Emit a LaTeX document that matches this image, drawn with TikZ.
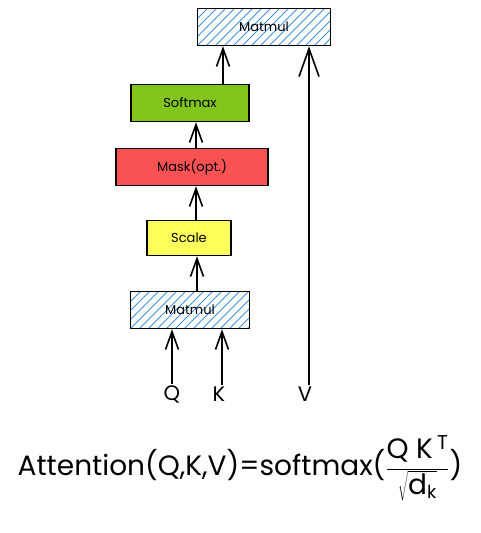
\documentclass[tikz,border=0pt]{standalone}
\usepackage{fontspec}
\setmainfont{Poppins}
\usepackage{tikz}
\usetikzlibrary{arrows.meta, positioning}

\begin{document}
\begin{tikzpicture}[
    x=1pt, y=-1pt,
    >={Straight Barb[length=18pt, width=13pt]},
    box/.style={draw, line width=1.4pt, align=center,
                minimum height=37pt, font=\fontsize{13}{15}\selectfont, inner sep=2pt},
    hatch/.style={box, path picture={
        \foreach \i in {-16,...,16}
          \draw[chatch, line width=1pt]
            ([xshift=\i*9pt]path picture bounding box.south west) -- ++(60pt,60pt);}},
    arr/.style={->, line width=1.6pt},
    inp/.style={font=\fontsize{21}{24}\selectfont, inner sep=1pt},
]
% ---- colours of the blocks ----
\definecolor{chatch}{HTML}{3D8FE6}   % hatched matmul
\definecolor{csoft}{HTML}{82C51C}    % softmax
\definecolor{cmask}{HTML}{FA5252}    % mask
\definecolor{cscale}{HTML}{FFFF5C}   % scale
\useasboundingbox (0,0) rectangle (481,533);
% ---- blocks ----
\node[hatch, minimum width=133pt]             (mm2)   at (264, 27)  {Matmul};
\node[box, fill=csoft, minimum width=118pt]   (soft)  at (190, 103) {Softmax};
\node[box, fill=cmask, minimum width=152pt]   (mask)  at (192, 167) {Mask(opt.)};
\node[box, fill=cscale, minimum width=84pt, minimum height=35pt] (scale) at (189, 238) {Scale};
\node[hatch, minimum width=119pt]             (mm1)   at (190, 310) {Matmul};
% ---- inputs ----
\node[inp] (Q) at (172, 394) {Q};
\node[inp] (K) at (219, 394) {K};
\node[inp] (V) at (305, 394) {V};

% ---- arrows ----
\draw[arr] (Q.north) -- (Q.north |- mm1.south);
\draw[arr] ([xshift=3pt]K.north) -- ([xshift=3pt]K.north |- mm1.south);
\draw[arr, >={Straight Barb[length=28pt, width=20pt]}]
    ([xshift=4pt]V.north) -- ([xshift=4pt]V.north |- mm2.south);
\draw[arr] ([xshift=7pt]mm1.north) -- ([xshift=7pt]mm1.north |- scale.south);
\draw[arr] ([xshift=7pt]scale.north) -- ([xshift=7pt]scale.north |- mask.south);
\draw[arr] ([xshift=4pt]mask.north) -- ([xshift=4pt]mask.north |- soft.south);
\draw[arr] ([xshift=33pt]soft.north) -- ([xshift=33pt]soft.north |- mm2.south);

% ---- formula ----
\node[font=\fontsize{28}{32}\selectfont, inner sep=0pt] (eq) at (240, 468)
    {Attention(Q,K,V)=softmax($\displaystyle\frac{\mbox{Q K}\,^{\mbox{\fontsize{20}{20}\selectfont T}}}{\sqrt{\mbox{d}_{\mbox{\fontsize{18}{18}\selectfont k}}}}$)};
\end{tikzpicture}
\end{document}
